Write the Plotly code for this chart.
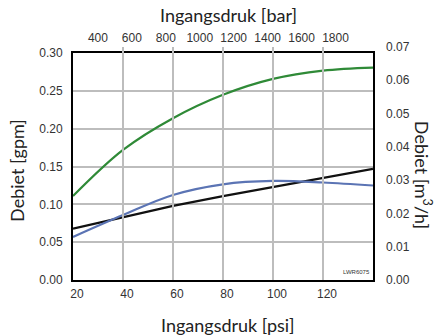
import plotly.graph_objects as go

# Inlet pressure (psi) and flow (gpm) per nozzle curve
psi = [20, 40, 60, 80, 100, 120, 140]
flow_green = [0.111, 0.172, 0.214, 0.245, 0.266, 0.277, 0.281]
flow_black = [0.068, 0.0835, 0.098, 0.111, 0.123, 0.135, 0.147]
flow_blue = [0.057, 0.086, 0.1125, 0.1266, 0.131, 0.129, 0.125]

psi_ticks = [20, 40, 60, 80, 100, 120]
bar_ticks = [400, 600, 800, 1000, 1200, 1400, 1600, 1800]
gpm_ticks = [0.0, 0.05, 0.10, 0.15, 0.20, 0.25, 0.30]
m3h_ticks = [0.0, 0.01, 0.02, 0.03, 0.04, 0.05, 0.06, 0.07]
GPM_TO_M3H = 0.2271

TICK_FONT = dict(family="Liberation Sans, Arial", size=12, color="#333333")
TITLE_FONT = dict(family="Lato", size=18, color="#222222")

fig = go.Figure()
for ys, col, shape in [(flow_green, "#2f8a37", "spline"), (flow_black, "#111111", "linear"),
                       (flow_blue, "#5b74b4", "spline")]:
    fig.add_trace(go.Scatter(x=psi, y=ys, mode="lines", line=dict(color=col, width=2.2, shape=shape),
                             showlegend=False, hoverinfo="skip"))

# helper traces to activate the secondary axes (m3/h and bar scales)
fig.add_trace(go.Scatter(x=psi, y=[v * GPM_TO_M3H for v in flow_black], yaxis="y2", mode="lines",
                         line=dict(width=0), opacity=0, showlegend=False, hoverinfo="skip"))
fig.add_trace(go.Scatter(x=bar_ticks, y=[0.1] * len(bar_ticks), xaxis="x2", mode="lines",
                         line=dict(width=0), opacity=0, showlegend=False, hoverinfo="skip"))

top = 0.3 / (0.07 / GPM_TO_M3H)  # fraction of height where 0.30 gpm sits

fig.update_layout(
    width=435, height=336,
    margin=dict(l=73, r=62, t=47, b=56),
    paper_bgcolor="white", plot_bgcolor="rgba(0,0,0,0)",
    xaxis=dict(range=[20, 140], tickvals=psi_ticks, ticktext=[str(v) for v in psi_ticks],
               showgrid=True, gridcolor="#bdbdbd", gridwidth=2, zeroline=False,
               showline=True, linecolor="black", linewidth=2, mirror=True,
               ticks="", tickfont=TICK_FONT, ticklabelshift=4, ticklabelstandoff=2),
    yaxis=dict(range=[0, 0.3], domain=[0, top], tickvals=gpm_ticks,
               ticktext=[f"{v:.2f}" for v in gpm_ticks],
               showgrid=True, gridcolor="#bdbdbd", gridwidth=2, zeroline=False,
               showline=True, linecolor="black", linewidth=2, mirror=True,
               ticks="", tickfont=TICK_FONT, ticklabelstandoff=6),
    xaxis2=dict(range=[253, 2021], overlaying="x", side="top", anchor="y",
                tickvals=bar_ticks, ticktext=[str(v) for v in bar_ticks],
                showgrid=False, zeroline=False, showline=False, ticks="",
                tickfont=TICK_FONT, ticklabelstandoff=8),
    yaxis2=dict(range=[0, 0.07], domain=[0, 1], anchor="x", side="right",
                tickvals=m3h_ticks, ticktext=[f"{v:.2f}" for v in m3h_ticks],
                showgrid=False, zeroline=False, showline=False, ticks="",
                tickfont=TICK_FONT, ticklabelstandoff=12),
    annotations=[
        dict(text="Ingangsdruk [bar]", xref="paper", yref="paper", x=0.517, y=1.137,
             showarrow=False, font=TITLE_FONT, xanchor="center", yanchor="middle"),
        dict(text="Ingangsdruk [psi]", xref="paper", yref="paper", x=0.517, y=-0.193,
             showarrow=False, font=TITLE_FONT, xanchor="center", yanchor="middle"),
        dict(text="Debiet [gpm]", xref="paper", yref="paper", x=-0.187, y=0.472, textangle=-90,
             showarrow=False, font=TITLE_FONT, xanchor="center", yanchor="middle"),
        dict(text="Debiet [m<sup>3</sup>/h]", xref="paper", yref="paper", x=1.167, y=0.451, textangle=90,
             showarrow=False, font=TITLE_FONT, xanchor="center", yanchor="middle"),
        dict(text="LWR6075", xref="paper", yref="paper", x=0.995, y=0.012,
             showarrow=False, font=dict(family="Liberation Sans, Arial", size=6, color="#333333"),
             xanchor="right", yanchor="bottom", bgcolor="white"),
    ],
)

fig.write_html("out.html")
